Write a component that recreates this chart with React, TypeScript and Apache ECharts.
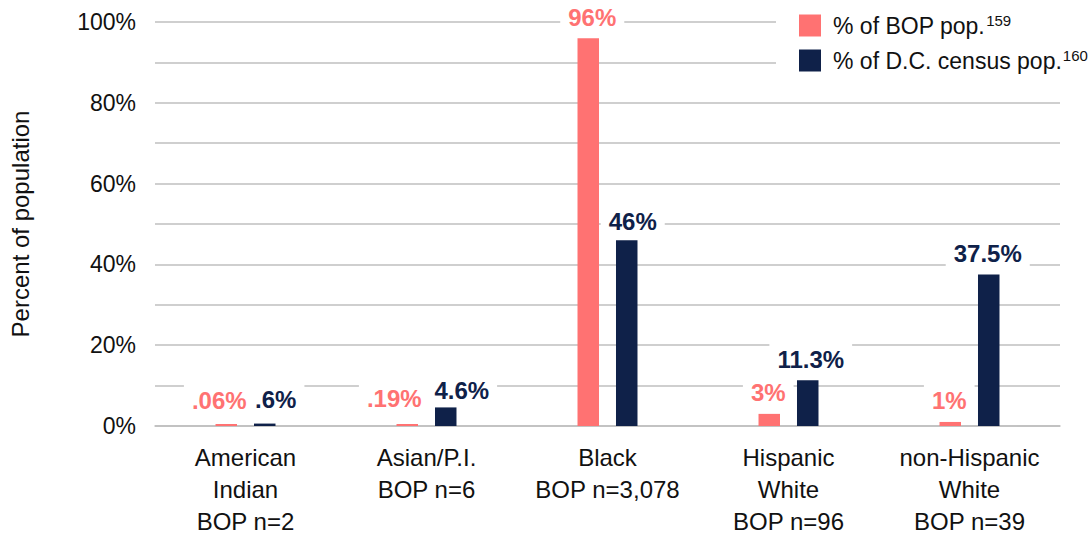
import React, { useEffect, useRef } from "react";
import * as echarts from "echarts";

const categories = [
  "American\nIndian\nBOP n=2",
  "Asian/P.I.\nBOP n=6",
  "Black\nBOP n=3,078",
  "Hispanic\nWhite\nBOP n=96",
  "non-Hispanic\nWhite\nBOP n=39",
];
const bopValues = [0.06, 0.19, 96, 3, 1];
const bopLabels = [".06%", ".19%", "96%", "3%", "1%"];
const censusValues = [0.6, 4.6, 46, 11.3, 37.5];
const censusLabels = [".6%", "4.6%", "46%", "11.3%", "37.5%"];
const seriesNames = ["% of BOP pop.", "% of D.C. census pop."];
const footnotes = ["159", "160"];
const yTicks = [0, 20, 40, 60, 80, 100];

// label nudges (styling only)
const bopLabelOffsets = [[-7, -3], [-13, -5], [4, 0], [-1, 0], [-1, 0]];
const censusLabelOffsets = [[11, -3], [16, 4], [6, 2], [3, 0], [-1, 0]];

const PINK = "#FF7272";
const NAVY = "#0F2149";
const GRID = "#BFBFBF";
const FONT = "'Liberation Sans', Arial, Helvetica, sans-serif";

export default function App() {
  const ref = useRef<HTMLDivElement>(null);
  useEffect(() => {
    if (!ref.current) return;
    const chart = echarts.init(ref.current, null, { renderer: "svg" });
    const labelBase = {
      show: true,
      position: "top",
      distance: 5,
      fontFamily: FONT,
      fontSize: 24,
      fontWeight: "bold",
      backgroundColor: "#ffffff",
      padding: [10, 8, 4, 8],
    };
    const mk = (vals: number[], labels: string[], offs: number[][], color: string) =>
      vals.map((v, i) => ({
        value: v,
        label: { ...labelBase, color, offset: offs[i], formatter: labels[i] },
      }));
    chart.setOption({
      animation: false,
      textStyle: { fontFamily: FONT },
      grid: { left: 155, right: 32, top: 22, bottom: 112, containLabel: false },
      legend: {
        orient: "vertical",
        left: 776,
        top: 0,
        padding: [13, 40, 14, 23],
        itemGap: 11,
        itemWidth: 22,
        itemHeight: 22,
        icon: "rect",
        backgroundColor: "#ffffff",
        data: seriesNames,
        formatter: (name: string) => {
          const i = seriesNames.indexOf(name);
          return `${name}{sup|${footnotes[i]}}`;
        },
        textStyle: {
          fontFamily: FONT,
          fontSize: 23,
          color: "#111111",
          padding: [0, 0, 0, 7],
          rich: {
            sup: { fontFamily: FONT, fontSize: 15, color: "#111111", padding: [0, 0, 10, 1] },
          },
        },
      },
      xAxis: {
        type: "category",
        data: categories,
        axisLine: { show: true, lineStyle: { color: GRID, width: 1.5 } },
        axisTick: { show: false },
        axisLabel: {
          interval: 0,
          margin: 15,
          fontFamily: FONT,
          fontSize: 24,
          lineHeight: 32,
          color: "#111111",
          verticalAlign: "top",
        },
      },
      yAxis: {
        type: "value",
        min: 0,
        max: 100,
        interval: 10,
        name: "Percent of population",
        nameLocation: "middle",
        nameGap: 123,
        nameRotate: 90,
        nameTextStyle: { fontFamily: FONT, fontSize: 24, color: "#111111" },
        axisLine: { show: false },
        axisTick: { show: false },
        splitLine: { show: true, lineStyle: { color: GRID, width: 1.5 } },
        axisLabel: {
          margin: 19,
          fontFamily: FONT,
          fontSize: 23,
          color: "#111111",
          formatter: (v: number) => (yTicks.includes(v) ? `${v}%` : ""),
        },
      },
      series: [
        {
          name: seriesNames[0],
          type: "bar",
          barWidth: 21.5,
          barGap: "79%",
          barMinHeight: 2,
          itemStyle: { color: PINK },
          data: mk(bopValues, bopLabels, bopLabelOffsets, PINK),
          z: 2,
        },
        {
          name: seriesNames[1],
          type: "bar",
          barWidth: 21.5,
          barGap: "79%",
          barMinHeight: 2,
          itemStyle: { color: NAVY },
          data: mk(censusValues, censusLabels, censusLabelOffsets, NAVY),
          z: 2,
        },
      ],
    });
    return () => chart.dispose();
  }, []);
  return (
    <div
      ref={ref}
      style={{ position: "fixed", left: 0, top: 0, width: 1092, height: 538, background: "#fff" }}
    />
  );
}
